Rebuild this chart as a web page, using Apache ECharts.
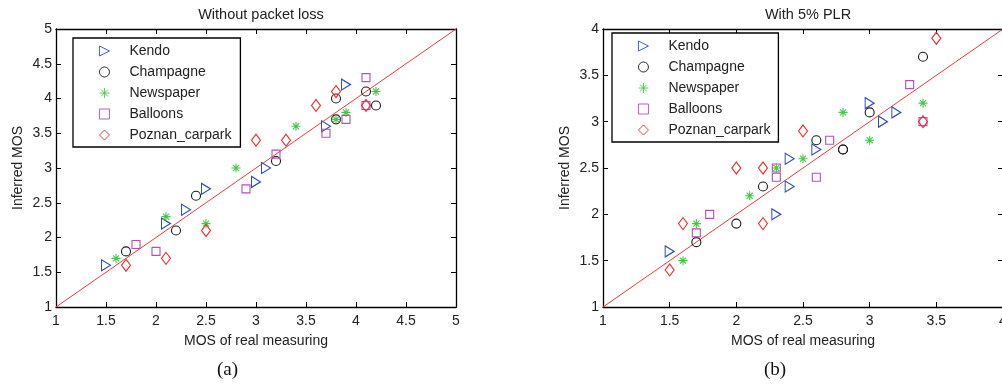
<!DOCTYPE html>
<html>
<head>
<meta charset="utf-8">
<script src="https://cdn.jsdelivr.net/npm/echarts@6/dist/echarts.min.js"></script>
<style>
html,body{margin:0;padding:0;background:#fff;}
#chart{width:1002px;height:384px;}
</style>
</head>
<body>
<div id="chart"></div>
<script>
// ---- data ----
const seriesNames = ['Kendo', 'Champagne', 'Newspaper', 'Balloons', 'Poznan_carpark'];
const titleLeft = 'Without packet loss';
const titleRight = 'With 5% PLR';
const xName = 'MOS of real measuring';
const yName = 'Inferred MOS';
const captions = ['(a)', '(b)'];

// Plot (a): [real, inferred]
const kendoA = [[1.5,1.6],[2.1,2.2],[2.3,2.4],[2.5,2.7],[3.0,2.8],[3.1,3.0],[3.7,3.6],[3.9,4.2]];
const champagneA = [[1.7,1.8],[2.2,2.1],[2.4,2.6],[3.2,3.1],[3.8,4.0],[3.8,3.7],[4.1,4.1],[4.2,3.9]];
const newspaperA = [[1.6,1.7],[2.1,2.3],[2.5,2.2],[2.8,3.0],[3.4,3.6],[3.8,3.7],[3.9,3.8],[4.2,4.1]];
const balloonsA = [[1.8,1.9],[2.0,1.8],[2.9,2.7],[3.2,3.2],[3.7,3.5],[3.9,3.7],[4.1,4.3],[4.1,3.9]];
const poznanA = [[1.7,1.6],[2.1,1.7],[2.5,2.1],[3.0,3.4],[3.3,3.4],[3.6,3.9],[3.8,4.1],[4.1,3.9]];
const diagA = [[1,1],[5,5]];

// Plot (b)
const kendoB = [[1.5,1.6],[2.3,2.0],[2.4,2.3],[2.4,2.6],[2.6,2.7],[3.0,3.2],[3.1,3.0],[3.2,3.1]];
const champagneB = [[1.7,1.7],[2.0,1.9],[2.2,2.3],[2.6,2.8],[2.8,2.7],[2.8,2.7],[3.0,3.1],[3.4,3.7]];
const newspaperB = [[1.6,1.5],[1.7,1.9],[2.1,2.2],[2.3,2.5],[2.5,2.6],[2.8,3.1],[3.0,2.8],[3.4,3.2]];
const balloonsB = [[1.7,1.8],[1.8,2.0],[2.3,2.5],[2.3,2.4],[2.6,2.4],[2.7,2.8],[3.3,3.4],[3.4,3.0]];
const poznanB = [[1.5,1.4],[1.6,1.9],[2.0,2.5],[2.2,2.5],[2.2,1.9],[2.5,2.9],[3.4,3.0],[3.5,3.9]];
const diagB = [[1,1],[4,4]];

const axisRangeA = [1, 5];
const axisRangeB = [1, 4];
const tickStep = 0.5;

// ---- styles ----
const colors = ['#2f4fbf', '#1a1a1a', '#45c845', '#b64fb6', '#f22a2a'];
const symbols = [
  'path://M0,0L10,5L0,10Z',
  'circle',
  'path://M5,0L5,10M0,5L10,5M1.6,1.6L8.4,8.4M1.6,8.4L8.4,1.6',
  'rect',
  'diamond'
];
const sizes = [[9,11], 9, 9, 8, [9,12]];
const dataA = [kendoA, champagneA, newspaperA, balloonsA, poznanA];
const dataB = [kendoB, champagneB, newspaperB, balloonsB, poznanB];

const font = 'Liberation Sans, Arial, sans-serif';
const txt = '#222';

function mkX(idx, range, pos, show) {
  return {
    type: 'value', gridIndex: idx, min: range[0], max: range[1], interval: tickStep,
    position: pos,
    splitLine: {show: false},
    axisLine: {show: true, onZero: false, lineStyle: {color: '#000', width: 1.3}},
    axisTick: {show: true, inside: true, length: 5, lineStyle: {color: '#000'}},
    axisLabel: {show: show, color: txt, fontSize: 14, fontFamily: font, margin: 7,
                formatter: v => String(v)},
    name: show ? xName : '', nameLocation: 'middle', nameGap: 27,
    nameTextStyle: {color: txt, fontSize: 14, fontFamily: font}
  };
}
function mkY(idx, range, pos, show) {
  return {
    type: 'value', gridIndex: idx, min: range[0], max: range[1], interval: tickStep,
    position: pos,
    splitLine: {show: false},
    axisLine: {show: true, onZero: false, lineStyle: {color: '#000', width: 1.3}},
    axisTick: {show: true, inside: true, length: 5, lineStyle: {color: '#000'}},
    axisLabel: {show: show, color: txt, fontSize: 14, fontFamily: font, margin: 4,
                formatter: v => String(v)},
    name: show ? yName : '', nameLocation: 'middle', nameGap: 31,
    nameTextStyle: {color: txt, fontSize: 14, fontFamily: font}
  };
}

const series = [];
function addSeries(data, xi, yi) {
  data.forEach((d, i) => {
    series.push({
      name: seriesNames[i], type: 'scatter', xAxisIndex: xi, yAxisIndex: yi,
      data: d, symbol: symbols[i], symbolSize: sizes[i],
      itemStyle: {color: 'rgba(0,0,0,0)', borderColor: colors[i], borderWidth: 1.1, opacity: 1},
      emphasis: {disabled: true}, z: 3
    });
  });
}
addSeries(dataA, 0, 0);
addSeries(dataB, 1, 1);
series.push({type: 'line', xAxisIndex: 0, yAxisIndex: 0, data: diagA, showSymbol: false,
  lineStyle: {color: '#f03a3a', width: 1}, silent: true, z: 2});
series.push({type: 'line', xAxisIndex: 1, yAxisIndex: 1, data: diagB, showSymbol: false,
  lineStyle: {color: '#f03a3a', width: 1}, silent: true, z: 2});

function mkLegend(left, top, padRight) {
  return {
    data: seriesNames, orient: 'vertical', left: left, top: top,
    itemWidth: 10, itemHeight: 10, itemGap: 7,
    padding: [6, padRight, 5, 26],
    borderColor: '#000', borderWidth: 1.3, borderRadius: 0,
    backgroundColor: '#fff',
    selectedMode: false,
    itemStyle: {borderWidth: 0.9},
    textStyle: {color: txt, fontSize: 14, fontFamily: font, lineHeight: 14, padding: [0, 0, 0, 15]}
  };
}

const option = {
  animation: false,
  backgroundColor: '#fff',
  title: [
    {text: titleLeft, left: 256, top: 2, textAlign: 'center',
     textStyle: {color: txt, fontSize: 14.5, fontWeight: 'normal', fontFamily: font}},
    {text: titleRight, left: 803, top: 2, textAlign: 'center',
     textStyle: {color: txt, fontSize: 14.5, fontWeight: 'normal', fontFamily: font}}
  ],
  grid: [
    {left: 56, top: 29, width: 400, height: 278, containLabel: false, outerBoundsMode: 'none'},
    {left: 603, top: 29, width: 400, height: 278, containLabel: false, outerBoundsMode: 'none'}
  ],
  xAxis: [
    mkX(0, axisRangeA, 'bottom', true),
    mkX(1, axisRangeB, 'bottom', true),
    mkX(0, axisRangeA, 'top', false),
    mkX(1, axisRangeB, 'top', false)
  ],
  yAxis: [
    mkY(0, axisRangeA, 'left', true),
    mkY(1, axisRangeB, 'left', true),
    mkY(0, axisRangeA, 'right', false),
    mkY(1, axisRangeB, 'right', false)
  ],
  legend: [mkLegend(73, 38, 9), mkLegend(612, 33, 8)],
  series: series,
  graphic: [
    {type: 'text', left: 217, top: 361, style: {text: captions[0], fill: '#111',
      font: '19px "Liberation Serif", "DejaVu Serif", serif'}},
    {type: 'text', left: 764, top: 361, style: {text: captions[1], fill: '#111',
      font: '19px "Liberation Serif", "DejaVu Serif", serif'}}
  ]
};

const chart = echarts.init(document.getElementById('chart'), null, {renderer: 'canvas'});
chart.setOption(option);
</script>
</body>
</html>
